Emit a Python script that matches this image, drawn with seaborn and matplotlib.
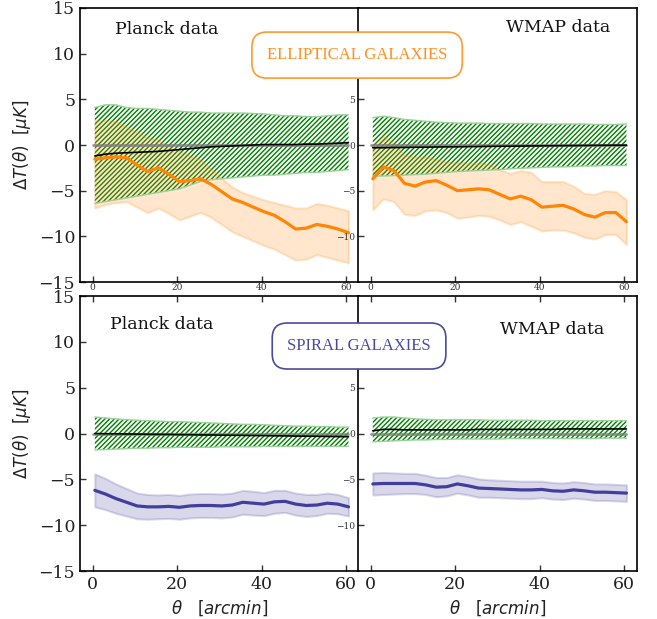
import numpy as np
import seaborn as sns
import matplotlib.pyplot as plt

sns.set_style('ticks')
plt.rcParams['font.family'] = ['DejaVu Serif']
plt.rcParams['mathtext.fontset'] = 'dejavusans'
plt.rcParams['hatch.linewidth'] = 1.0

# separation angle (arcmin)
theta = [0.5, 3, 5.5, 8, 10.5, 13, 15.5, 18, 20.5, 23, 25.5, 28, 30.5,
         33, 35.5, 38, 40.5, 43, 45.5, 48, 50.5, 53, 55.5, 58, 60.5]

# ---- elliptical galaxies, Planck
ell_planck = [-1.55, -1.4, -1.3, -1.4, -2.2, -2.9, -2.5, -3.2, -4.0, -3.9, -3.7, -4.3, -5.1,
              -5.9, -6.3, -6.8, -7.3, -7.7, -8.4, -9.2, -9.1, -8.7, -8.9, -9.2, -9.6]
ell_planck_hi = [2.7, 2.7, 2.6, 2.0, 1.4, 0.8, 0.6, -0.1, -0.6, -1.2, -1.6, -2.6, -3.6,
                 -4.6, -5.2, -5.6, -6.0, -6.3, -6.6, -6.9, -6.9, -6.4, -6.6, -6.9, -7.2]
ell_planck_lo = [-6.9, -6.5, -6.3, -6.2, -6.8, -7.4, -6.9, -7.5, -8.2, -7.8, -7.4, -7.9, -8.7,
                 -9.5, -10.0, -10.5, -11.0, -11.4, -12.0, -12.6, -12.5, -12.0, -12.3, -12.6, -12.9]
rnd_ell_planck = [-1.2, -1.0, -0.9, -0.85, -0.8, -0.75, -0.7, -0.6, -0.5, -0.4, -0.3, -0.2, -0.15,
                  -0.1, -0.05, 0.0, 0.05, 0.05, 0.05, 0.05, 0.1, 0.1, 0.15, 0.2, 0.25]
rnd_ell_planck_hi = [4.1, 4.4, 4.4, 4.1, 4.0, 4.0, 3.9, 3.8, 3.7, 3.6, 3.6, 3.5, 3.5,
                     3.5, 3.5, 3.45, 3.4, 3.3, 3.2, 3.2, 3.1, 3.1, 3.2, 3.3, 3.3]
rnd_ell_planck_lo = [-6.4, -6.2, -6.0, -5.8, -5.6, -5.4, -5.2, -5.0, -4.8, -4.4, -4.0, -3.8, -3.7,
                     -3.6, -3.5, -3.4, -3.3, -3.3, -3.2, -3.1, -3.0, -3.0, -2.9, -2.8, -2.7]

# ---- elliptical galaxies, WMAP
ell_wmap = [-3.7, -2.4, -2.8, -4.2, -4.5, -4.05, -3.9, -4.4, -5.0, -4.9, -4.8, -4.9, -5.4,
            -5.9, -5.6, -6.0, -6.8, -6.7, -6.6, -7.0, -7.6, -7.9, -7.4, -7.4, -8.4]
ell_wmap_hi = [0.0, 1.0, 0.2, -1.1, -1.3, -1.3, -1.55, -1.85, -1.9, -1.95, -2.0, -2.1, -2.7,
               -3.1, -2.8, -3.0, -4.0, -4.0, -4.0, -4.5, -5.3, -5.4, -5.0, -5.1, -6.0]
ell_wmap_lo = [-7.1, -5.9, -6.2, -7.6, -7.7, -7.2, -7.1, -7.4, -8.0, -7.9, -7.7, -7.8, -8.2,
               -8.7, -8.4, -8.9, -9.4, -9.3, -9.3, -9.6, -10.1, -10.3, -9.8, -9.8, -10.9]
rnd_ell_wmap = [-0.3, -0.3, -0.28, -0.27, -0.25, -0.24, -0.22, -0.2, -0.2, -0.18, -0.17, -0.15, -0.14,
                -0.13, -0.12, -0.1, -0.09, -0.08, -0.07, -0.06, -0.05, -0.04, -0.03, -0.02, -0.02]
rnd_ell_wmap_hi = [3.0, 3.15, 3.0, 2.8, 2.7, 2.6, 2.5, 2.45, 2.4, 2.4, 2.4, 2.35, 2.35,
                   2.35, 2.35, 2.35, 2.3, 2.3, 2.3, 2.3, 2.3, 2.25, 2.25, 2.25, 2.3]
rnd_ell_wmap_lo = [-3.4, -3.4, -3.35, -3.3, -3.25, -3.2, -3.1, -3.0, -2.9, -2.85, -2.8, -2.75, -2.7,
                   -2.6, -2.55, -2.5, -2.45, -2.4, -2.4, -2.35, -2.3, -2.3, -2.25, -2.25, -2.25]

# ---- spiral galaxies, Planck
spi_planck = [-6.2, -6.6, -7.1, -7.5, -7.9, -8.0, -8.0, -7.95, -8.05, -7.9, -7.85, -7.85, -7.9,
              -7.8, -7.5, -7.6, -7.7, -7.45, -7.4, -7.7, -7.85, -7.8, -7.6, -7.7, -8.0]
spi_planck_err = [1.8, 1.7, 1.6, 1.5, 1.4, 1.35, 1.3, 1.3, 1.3, 1.3, 1.3, 1.3, 1.3,
                  1.3, 1.3, 1.3, 1.25, 1.25, 1.2, 1.2, 1.2, 1.15, 1.1, 1.05, 1.0]
rnd_spi_planck = [0.0, -0.02, -0.03, -0.05, -0.06, -0.08, -0.09, -0.1, -0.12, -0.13, -0.15, -0.16, -0.18,
                  -0.19, -0.2, -0.22, -0.23, -0.25, -0.26, -0.28, -0.29, -0.3, -0.32, -0.33, -0.35]
rnd_spi_planck_hi = [1.8, 1.7, 1.6, 1.5, 1.45, 1.4, 1.35, 1.3, 1.3, 1.25, 1.2, 1.15, 1.1,
                     1.05, 1.0, 1.0, 0.95, 0.9, 0.85, 0.8, 0.8, 0.75, 0.75, 0.7, 0.7]
rnd_spi_planck_lo = [-1.8, -1.75, -1.7, -1.65, -1.6, -1.6, -1.55, -1.55, -1.5, -1.5, -1.5, -1.5, -1.45,
                     -1.45, -1.45, -1.45, -1.4, -1.4, -1.4, -1.4, -1.4, -1.4, -1.4, -1.4, -1.4]

# ---- spiral galaxies, WMAP
spi_wmap = [-5.5, -5.45, -5.45, -5.45, -5.45, -5.6, -5.85, -5.8, -5.5, -5.7, -5.95, -6.0, -6.05,
            -6.1, -6.15, -6.15, -6.1, -6.25, -6.3, -6.15, -6.25, -6.4, -6.4, -6.45, -6.5]
spi_wmap_err = [1.2, 1.2, 1.15, 1.1, 1.1, 1.05, 1.05, 1.0, 1.0, 1.0, 1.0, 0.95, 0.95,
                0.95, 0.95, 0.95, 0.9, 0.9, 0.9, 0.9, 0.9, 0.9, 0.9, 0.9, 0.9]
rnd_spi_wmap = [0.3, 0.45, 0.45, 0.4, 0.4, 0.4, 0.4, 0.4, 0.4, 0.4, 0.45, 0.45, 0.45,
                0.45, 0.45, 0.45, 0.45, 0.45, 0.5, 0.5, 0.5, 0.5, 0.5, 0.5, 0.5]
rnd_spi_wmap_hi = [1.7, 1.8, 1.8, 1.7, 1.6, 1.55, 1.5, 1.5, 1.5, 1.5, 1.5, 1.45, 1.45,
                   1.45, 1.45, 1.45, 1.4, 1.4, 1.4, 1.4, 1.4, 1.4, 1.4, 1.4, 1.4]
rnd_spi_wmap_lo = [-0.9, -0.85, -0.8, -0.75, -0.7, -0.7, -0.65, -0.65, -0.6, -0.6, -0.6, -0.6, -0.6,
                   -0.55, -0.55, -0.55, -0.55, -0.55, -0.55, -0.55, -0.55, -0.55, -0.5, -0.5, -0.5]

ORANGE = '#ff8505'
BLUE = '#423f9c'

fig = plt.figure(figsize=(6.57, 6.19), dpi=100)
ax_tl = fig.add_axes([0.1218, 0.5444, 0.4247, 0.4427])
ax_tr = fig.add_axes([0.5449, 0.5444, 0.4247, 0.4427])
ax_bl = fig.add_axes([0.1218, 0.0775, 0.4247, 0.4443])
ax_br = fig.add_axes([0.5449, 0.0775, 0.4247, 0.4443])


def draw_random(ax, mean, lo, hi):
    ax.fill_between(theta, lo, hi, facecolor='none', edgecolor='green',
                    hatch='///////', linewidth=0)
    ax.plot(theta, lo, color='#9ccf9c', lw=1)
    ax.plot(theta, hi, color='#9ccf9c', lw=1)
    ax.plot([0, 60.5], [0, 0], color='#7a7a7a', alpha=0.8, lw=2)
    sns.lineplot(x=theta, y=mean, ax=ax, color='black', lw=1.2)


def draw_signal(ax, mean, lo, hi, color):
    ax.fill_between(theta, lo, hi, color=color, alpha=0.2, lw=1.5)
    sns.lineplot(x=theta, y=mean, ax=ax, color=color, lw=2.3)


draw_random(ax_tl, rnd_ell_planck, rnd_ell_planck_lo, rnd_ell_planck_hi)
draw_signal(ax_tl, ell_planck, ell_planck_lo, ell_planck_hi, ORANGE)
draw_random(ax_tr, rnd_ell_wmap, rnd_ell_wmap_lo, rnd_ell_wmap_hi)
draw_signal(ax_tr, ell_wmap, ell_wmap_lo, ell_wmap_hi, ORANGE)

sp = np.array(spi_planck)
spe = np.array(spi_planck_err)
draw_random(ax_bl, rnd_spi_planck, rnd_spi_planck_lo, rnd_spi_planck_hi)
draw_signal(ax_bl, spi_planck, sp - spe, sp + spe, BLUE)
sw = np.array(spi_wmap)
swe = np.array(spi_wmap_err)
draw_random(ax_br, rnd_spi_wmap, rnd_spi_wmap_lo, rnd_spi_wmap_hi)
draw_signal(ax_br, spi_wmap, sw - swe, sw + swe, BLUE)

for ax in [ax_tl, ax_tr, ax_bl, ax_br]:
    ax.set_xlim(-3, 63)
    ax.set_ylim(-15, 15)
    ax.set_xticks([0, 20, 40, 60])
    ax.tick_params(direction='in', length=4, width=1, colors='#333333')
    for s in ax.spines.values():
        s.set_linewidth(1.2)
        s.set_color('black')

for ax in [ax_tl, ax_bl]:
    ax.set_yticks([-15, -10, -5, 0, 5, 10, 15])
    ax.tick_params(axis='y', labelsize=12.5, labelcolor='#222222')
    ax.set_ylabel(r'$\Delta T(\theta)$  $[\mu K]$', fontsize=12, color='#222222')
for ax in [ax_tr, ax_br]:
    ax.set_yticks([-10, -5, 0, 5])
    ax.tick_params(axis='y', labelsize=6.5, labelcolor='#333333', pad=2)
for ax in [ax_tl, ax_tr]:
    ax.tick_params(axis='x', labelsize=6.5, labelcolor='#333333', pad=1)
for ax in [ax_bl, ax_br]:
    ax.tick_params(axis='x', top=True, labelsize=12.5, labelcolor='#222222')
    ax.set_xlabel(r'$\theta$   $[arcmin]$', fontsize=12, color='#222222')

ax_tl.text(0.125, 0.92, 'Planck data', transform=ax_tl.transAxes, fontsize=12.5,
           va='center', color='#111111')
ax_tr.text(0.53, 0.93, 'WMAP data', transform=ax_tr.transAxes, fontsize=12.5,
           va='center', color='#111111')
ax_bl.text(0.108, 0.895, 'Planck data', transform=ax_bl.transAxes, fontsize=12.5,
           va='center', color='#111111')
ax_br.text(0.51, 0.88, 'WMAP data', transform=ax_br.transAxes, fontsize=12.5,
           va='center', color='#111111')

fig.text(0.5435, 0.911, 'ELLIPTICAL GALAXIES', color='#ff9020', family='Liberation Serif',
         fontsize=12, ha='center', va='center',
         bbox=dict(boxstyle='round,pad=0.9,rounding_size=0.9', facecolor='white',
                   edgecolor='#ff9a30', lw=1.2))
fig.text(0.5465, 0.441, 'SPIRAL GALAXIES', color='#4b4b9b', family='Liberation Serif',
         fontsize=12, ha='center', va='center',
         bbox=dict(boxstyle='round,pad=0.9,rounding_size=0.9', facecolor='white',
                   edgecolor='#4b4b9b', lw=1.2))

fig.savefig('out.png', dpi=100)
